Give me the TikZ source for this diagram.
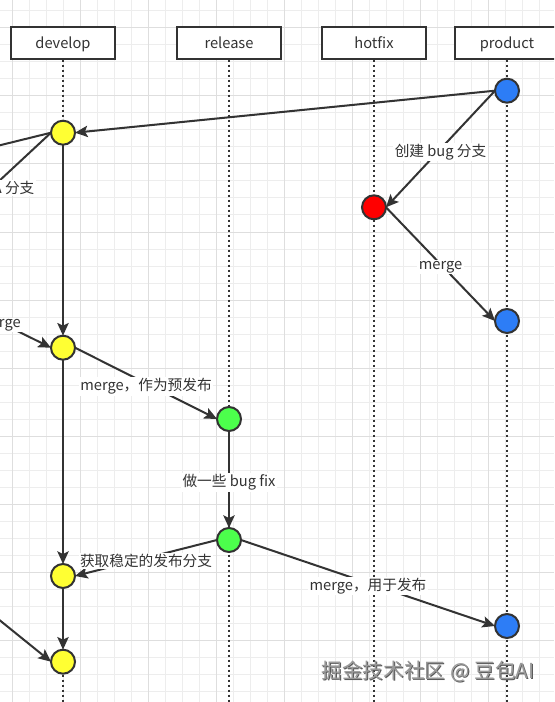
\documentclass[tikz,border=0pt]{standalone}
\usepackage{fontspec}
\setmainfont{Noto Sans CJK SC}
\usetikzlibrary{arrows.meta}
\definecolor{inkgray}{HTML}{333333}
\definecolor{devyellow}{HTML}{FFFF33}
\definecolor{relgreen}{HTML}{4CFF4C}
\definecolor{fixred}{HTML}{FF0000}
\definecolor{prodblue}{HTML}{2D7DF6}
\definecolor{gridminor}{HTML}{EDEDED}
\definecolor{gridmajor}{HTML}{DEDEDE}
\begin{document}
\begin{tikzpicture}[x=0.75pt, y=-0.75pt,
	branchbox/.style={draw=inkgray, line width=1.5pt, fill=white, minimum width=78pt, minimum height=24pt, inner sep=0pt, text height=9.6pt, text depth=0.4pt, text=inkgray, font=\fontsize{11pt}{13pt}\selectfont},
	lifeline/.style={draw=inkgray, line width=1.5pt, dash pattern=on 1.5pt off 2.25pt},
	commit/.style={circle, draw=inkgray, line width=1.5pt, minimum size=18pt, inner sep=0pt, outer sep=0pt},
	flow/.style={draw=inkgray, line width=1.5pt, -{Stealth[length=9.5pt, width=8.5pt, inset=2pt]}},
	flowlabel/.style={fill=white, inner sep=1pt, yshift=-2.2pt, text=inkgray, font=\fontsize{11pt}{13pt}\selectfont}]
			\useasboundingbox (0,0) rectangle (554,702);
			\clip (0,0) rectangle (554,702);
			\fill[white] (0,0) rectangle (554,702);
			\foreach \k in {-1,...,32} \draw[gridminor, line width=0.75pt] (12.7+17*\k,0) -- ++(0,702);
			\foreach \k in {0,...,41} \draw[gridminor, line width=0.75pt] (0,11+17*\k) -- ++(554,0);
			\foreach \k in {0,4,...,32} \draw[gridmajor, line width=0.75pt] (12.7+17*\k,0) -- ++(0,702);
			\foreach \k in {1,5,...,41} \draw[gridmajor, line width=0.75pt] (0,11+17*\k) -- ++(554,0);

			\node[branchbox] (develophead) at (63,42.7) {develop};
			\node[branchbox] (releasehead) at (229,42.7) {release};
			\node[branchbox] (hotfixhead) at (374,42.7) {hotfix};
			\node[branchbox] (producthead) at (507,42.7) {product};
			\coordinate (developend) at (63,710);
			\coordinate (releaseend) at (229,710);
			\coordinate (hotfixend) at (374,710);
			\coordinate (productend) at (507,710);
			\draw[lifeline] (develophead.south) -- (developend);
			\draw[lifeline] (releasehead.south) -- (releaseend);
			\draw[lifeline] (hotfixhead.south) -- (hotfixend);
			\draw[lifeline] (producthead.south) -- (productend);

			\node[commit, fill=devyellow] (dev1) at (63,132.7) {};
			\node[commit, fill=devyellow] (dev2) at (63,347.7) {};
			\node[commit, fill=devyellow] (dev3) at (63,576) {};
			\node[commit, fill=devyellow] (dev4) at (63,661.7) {};
			\node[commit, fill=relgreen] (rel1) at (229,419) {};
			\node[commit, fill=relgreen] (rel2) at (229,540) {};
			\node[commit, fill=fixred] (fix1) at (374,207.3) {};
			\node[commit, fill=prodblue] (prod1) at (507,90.7) {};
			\node[commit, fill=prodblue] (prod2) at (507,321) {};
			\node[commit, fill=prodblue] (prod3) at (507,626) {};

			\coordinate (featureout) at (-60,160);
			\coordinate (featurenew) at (-60,236);
			\coordinate (featurein) at (-53,296);
			\coordinate (featurelast) at (-60,572);

			\draw[flow] (prod1.west) -- (dev1.east);
			\draw[flow] (dev1.west) -- (featureout);
			\draw[flow] (dev1.west) -- (featurenew);
			\node[flowlabel, anchor=east] (featurelabel) at (36,185) {A 分支};
			\draw[flow] (prod1.west) -- node[flowlabel] {创建 bug 分支} (fix1.east);
			\draw[flow] (fix1.east) -- node[flowlabel] {merge} (prod2.west);
			\draw[flow] (dev1.south) -- (dev2.north);
			\draw[flow] (featurein) -- node[flowlabel] {merge} (dev2.west);
			\draw[flow] (dev2.east) -- node[flowlabel] {merge，作为预发布} (rel1.west);
			\draw[flow] (rel1.south) -- node[flowlabel] {做一些 bug fix} (rel2.north);
			\draw[flow] (dev2.south) -- (dev3.north);
			\draw[flow] (rel2.west) -- node[flowlabel] {获取稳定的发布分支} (dev3.east);
			\draw[flow] (rel2.east) -- node[flowlabel] {merge，用于发布} (prod3.west);
			\draw[flow] (dev3.south) -- (dev4.north);
			\draw[flow] (featurelast) -- (dev4.west);

			\node[text=black!65, font=\fontsize{15.5pt}{18pt}\selectfont] (watermarkshadow) at (429,673) {掘金技术社区 @ 豆包AI};
			\node[text=black!40, font=\fontsize{15.5pt}{18pt}\selectfont] (watermark) at (428,672) {掘金技术社区 @ 豆包AI};
\end{tikzpicture}
\end{document}
